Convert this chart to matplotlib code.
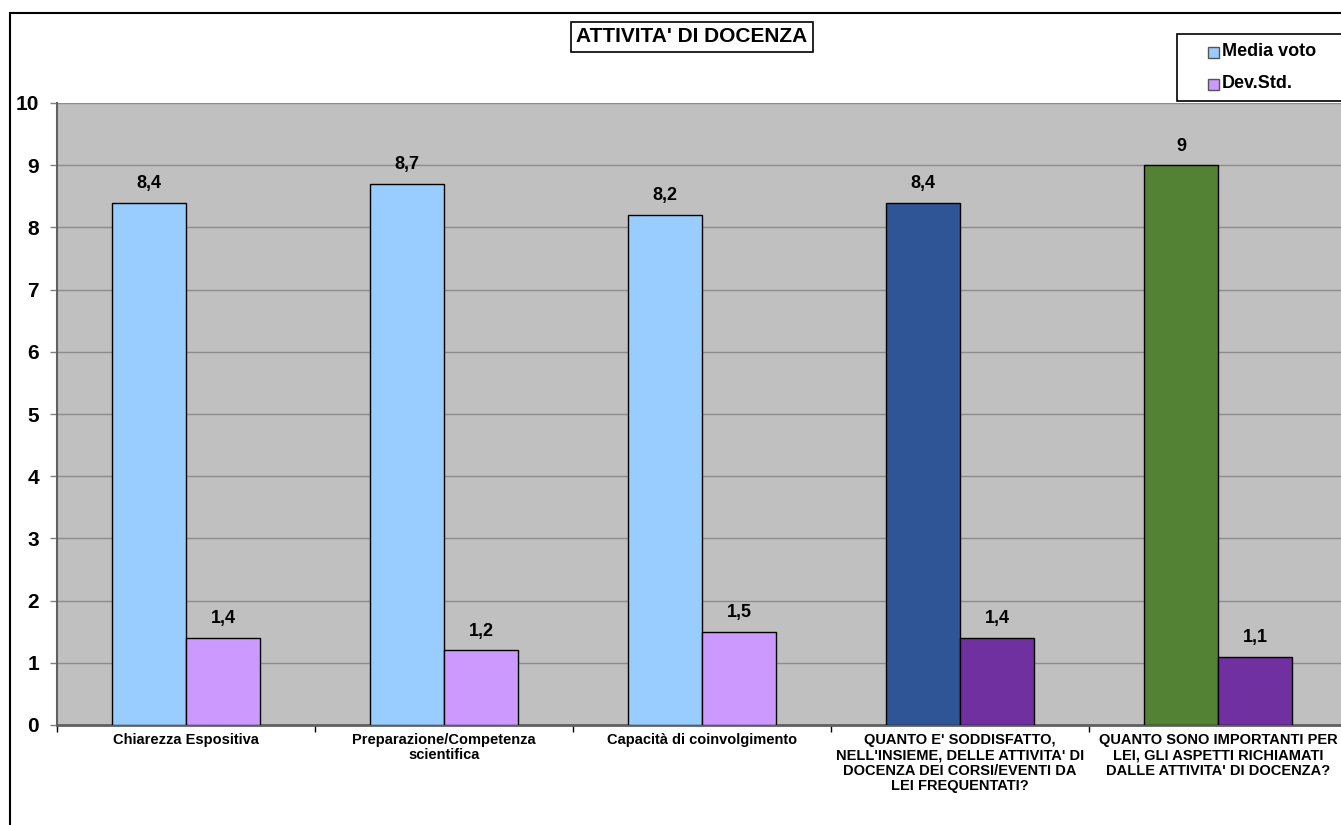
import matplotlib
matplotlib.use("Agg")
import matplotlib.pyplot as plt
from matplotlib.patches import Rectangle
import numpy as np

plt.rcParams['font.family'] = ['Liberation Sans', 'DejaVu Sans']
plt.rcParams['font.weight'] = 'bold'

categories = [
    "Chiarezza Espositiva",
    "Preparazione/Competenza\nscientifica",
    "Capacità di coinvolgimento",
    "QUANTO E' SODDISFATTO,\nNELL'INSIEME, DELLE ATTIVITA' DI\nDOCENZA DEI CORSI/EVENTI DA\nLEI FREQUENTATI?",
    "QUANTO SONO IMPORTANTI PER\nLEI, GLI ASPETTI RICHIAMATI\nDALLE ATTIVITA' DI DOCENZA?",
]
media_voto = [8.4, 8.7, 8.2, 8.4, 9.0]
dev_std = [1.4, 1.2, 1.5, 1.4, 1.1]
media_labels = ["8,4", "8,7", "8,2", "8,4", "9"]
dev_labels = ["1,4", "1,2", "1,5", "1,4", "1,1"]
series_names = ["Media voto", "Dev.Std."]
title = "ATTIVITA' DI DOCENZA"

media_colors = ["#99CCFF", "#99CCFF", "#99CCFF", "#2F5597", "#548235"]
dev_colors = ["#CC99FF", "#CC99FF", "#CC99FF", "#7030A0", "#7030A0"]

W, H = 1341, 825
fig = plt.figure(figsize=(W / 100, H / 100), dpi=100)
fig.patch.set_facecolor("white")

ax = fig.add_axes([57 / W, 100 / H, 1290 / W, 622 / H])
ax.set_facecolor("#C0C0C0")

x = np.arange(len(categories))
bw = 0.287
ax.bar(x - bw / 2, media_voto, bw, color=media_colors, edgecolor="black", linewidth=1, zorder=3)
ax.bar(x + bw / 2, dev_std, bw, color=dev_colors, edgecolor="black", linewidth=1, zorder=3)

for xi, v, lab in zip(x, media_voto, media_labels):
    ax.text(xi - bw / 2, v + 0.17, lab, ha="center", va="bottom", fontsize=13, fontweight="bold")
for xi, v, lab in zip(x, dev_std, dev_labels):
    ax.text(xi + bw / 2, v + 0.17, lab, ha="center", va="bottom", fontsize=13, fontweight="bold")

ax.set_xlim(-0.5, len(categories) - 0.5)
ax.set_ylim(0, 10)
ax.set_yticks(range(0, 11))
ax.yaxis.grid(True, color="#8C8C8C", linewidth=1, zorder=0)
ax.set_axisbelow(True)
ax.tick_params(axis="y", labelsize=15, length=5, color="#808080", width=1, pad=8)
for t in ax.get_yticklabels():
    t.set_fontweight("bold")

ax.set_xticks(x)
ax.set_xticklabels(categories, fontsize=10.5, fontweight="bold", linespacing=1.1)
ax.tick_params(axis="x", which="major", length=0, pad=6)
ax.set_xticks(np.arange(-0.5, len(categories) - 0.4, 1.0), minor=True)
ax.tick_params(axis="x", which="minor", length=5, color="black", width=1)

for s in ["top", "right"]:
    ax.spines[s].set_visible(False)
ax.spines["left"].set_color("#606060")
ax.spines["left"].set_linewidth(1.5)
ax.spines["bottom"].set_color("#606060")
ax.spines["bottom"].set_linewidth(2)

# outer chart border
fig.patches.append(Rectangle((10 / W, -0.1), 1.2, (H - 13) / H + 0.1, transform=fig.transFigure,
                             fill=False, edgecolor="black", linewidth=1.5, zorder=10))

# title box
fig.text(692 / W, 1 - 37 / H, title, ha="center", va="center", fontsize=15, fontweight="bold",
         bbox=dict(boxstyle="square,pad=0.28", facecolor="white", edgecolor="black", linewidth=1.2))

# legend (drawn manually, box runs past the right edge as in the reference)
fig.patches.append(Rectangle((1177 / W, 1 - 101 / H), 200 / W, 67 / H, transform=fig.transFigure,
                             facecolor="white", edgecolor="black", linewidth=1.2, zorder=5))
leg_colors = ["#99CCFF", "#CC99FF"]
for i, (name, col) in enumerate(zip(series_names, leg_colors)):
    yc = 52 + i * 32
    fig.patches.append(Rectangle((1208 / W, 1 - (yc + 6) / H), 11 / W, 11 / H, transform=fig.transFigure,
                                 facecolor=col, edgecolor="#555555", linewidth=1, zorder=6))
    fig.text(1222 / W, 1 - yc / H, name, ha="left", va="center", fontsize=13, fontweight="bold", zorder=7)

fig.savefig("out.png", dpi=100)
